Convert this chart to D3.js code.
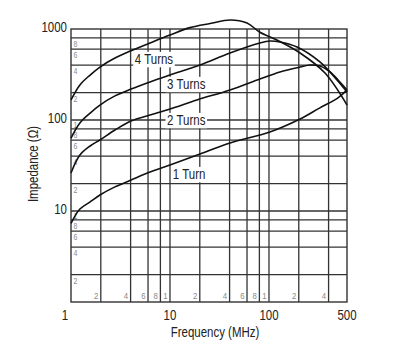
<!DOCTYPE html>
<html>
<head>
<meta charset="utf-8">
<script src="https://cdn.jsdelivr.net/npm/d3@7/dist/d3.min.js"></script>
<style>
  html, body { margin: 0; padding: 0; background: #fff; }
  svg { display: block; }
  text { font-family: "Liberation Sans", Arial, sans-serif; }
</style>
</head>
<body>
<svg id="chart" width="393" height="347"></svg>
<script>
// ---------------- data ----------------
const xMin = 1, xMax = 614;           // frequency axis extent (MHz)
const yMin = 1, yMax = 1000;          // impedance axis extent (ohm)

const xGridValues = [2, 4, 6, 8, 10, 20, 40, 60, 80, 100, 200, 400];
const xMinorLabels = ["2", "4", "6", "8", "1", "2", "4", "6", "8", "1", "2", "4"];
const yGridValues = [2, 4, 6, 8, 10, 20, 40, 60, 80, 100, 200, 400, 600, 800];
const yMinorLabels = ["2", "4", "6", "8", "1", "2", "4", "6", "8", "1", "2", "4", "6", "8"];

const xTickValues = [1, 10, 100, 614];
const xTickLabels = ["1", "10", "100", "500"];
const yTickValues = [10, 100, 1000];
const yTickLabels = ["10", "100", "1000"];

const xTitle = "Frequency (MHz)";
const yTitle = "Impedance (\u03A9)";

// series: frequency (MHz) and impedance (ohm)
const turns4Freq = [1, 1.23, 1.56, 1.96, 2.78, 4.04, 6.28, 10, 15.9, 25.4, 40.4, 60, 81, 120, 206, 368, 614];
const turns4Imp  = [166, 243, 312, 382, 480, 578, 702, 859, 1035, 1149, 1256, 1164, 920, 757, 545, 328, 146];

const turns3Freq = [1, 1.23, 1.56, 1.96, 2.78, 4.04, 6.28, 10, 20.1, 40.4, 81, 102, 129, 192, 327, 486, 614];
const turns3Imp  = [63.4, 92.7, 119, 146, 184, 219, 262, 312, 402, 545, 702, 738, 720, 634, 434, 275, 203];

const turns2Freq = [1, 1.23, 1.56, 1.96, 2.78, 4.04, 6.28, 10, 18.7, 40.4, 81, 129, 206, 259, 327, 413, 521, 614];
const turns2Imp  = [26.2, 41.2, 51.8, 60.3, 77.6, 97.5, 113.5, 132, 166, 214, 282, 337, 382, 402, 392, 337, 262, 214];

const turn1Freq = [1, 1.23, 1.56, 1.96, 2.78, 4.04, 6.28, 10, 20.1, 40.4, 102, 206, 327, 498, 614];
const turn1Imp  = [7.3, 10.5, 12.6, 15.0, 18.4, 21.9, 26.8, 32.0, 42.3, 55.9, 73.8, 102.5, 136, 175, 214];

const seriesNames = ["4 Turns", "3 Turns", "2 Turns", "1 Turn"];
const labelFreq = [6.89, 14.6, 14.6, 15.6];
const labelImp  = [468, 249, 100, 25.5];

// ---------------- chart ----------------
const svg = d3.select("#chart");
const plotLeft = 71, plotRight = 347, plotTop = 29, plotBottom = 302;
const narrow = 0.82;   // condensed look of the original lettering

const x = d3.scaleLog().domain([xMin, xMax]).range([plotLeft, plotRight]);
const y = d3.scaleLog().domain([yMin, yMax]).range([plotBottom, plotTop]);

function addText(parent, px, py, str, size, anchor, fill, extra) {
  const g = parent.append("g")
    .attr("transform", `translate(${px},${py})${extra || ""} scale(${narrow},1)`);
  const t = g.append("text")
    .attr("text-anchor", anchor).attr("font-size", size).attr("fill", fill)
    .text(str);
  return { g, t };
}

const gridColor = "#333";
const grid = svg.append("g");

grid.selectAll("line.v").data(xGridValues).enter().append("line")
  .attr("x1", d => x(d)).attr("x2", d => x(d))
  .attr("y1", y(yMax)).attr("y2", y(yMin))
  .attr("stroke", gridColor).attr("stroke-width", 1.3);

grid.selectAll("line.h").data(yGridValues).enter().append("line")
  .attr("x1", x(xMin)).attr("x2", x(xMax))
  .attr("y1", d => y(d)).attr("y2", d => y(d))
  .attr("stroke", gridColor).attr("stroke-width", 1.3);

grid.append("rect")
  .attr("x", x(xMin)).attr("y", y(yMax))
  .attr("width", x(xMax) - x(xMin)).attr("height", y(yMin) - y(yMax))
  .attr("fill", "none").attr("stroke", gridColor).attr("stroke-width", 1.4);

// minor labels
const minor = svg.append("g");
xGridValues.forEach((d, i) => addText(minor, x(d) - 2.5, y(yMin) - 3, xMinorLabels[i], 9.5, "end", "#8a8a8a"));
yGridValues.forEach((d, i) => addText(minor, x(xMin) + 2.5, y(d) + (yMinorLabels[i] === "1" ? 7.5 : 9), yMinorLabels[i], 8.5, "start", "#8a8a8a"));

// major tick labels
const major = svg.append("g");
xTickValues.forEach((d, i) => addText(major, x(d) + (i === 0 ? -6 : 0), y(yMin) + 18, xTickLabels[i], 14, "middle", "#222"));
yTickValues.forEach((d, i) => addText(major, x(xMin) - 4, y(d) + 3, yTickLabels[i], 14, "end", "#222"));

// axis titles
addText(svg, 215, 337, xTitle, 14, "middle", "#222");
addText(svg, 38, 164, yTitle, 14, "middle", "#222", " rotate(-90)");

// series labels with white boxes
const lab = svg.append("g");
seriesNames.forEach((name, i) => {
  const o = addText(lab, x(labelFreq[i]), y(labelImp[i]) + 5, name, 14, "middle", "#222");
  const bb = o.t.node().getBBox();
  o.g.insert("rect", "text")
    .attr("x", bb.x - 2).attr("y", bb.y + 1)
    .attr("width", bb.width + 4).attr("height", bb.height - 1)
    .attr("fill", "#fff");
});

// curves
const series = [
  [turns4Freq, turns4Imp],
  [turns3Freq, turns3Imp],
  [turns2Freq, turns2Imp],
  [turn1Freq, turn1Imp]
];
const line = d3.line()
  .x(d => x(d[0])).y(d => y(d[1]))
  .curve(d3.curveCatmullRom.alpha(0.5));

svg.append("g").selectAll("path").data(series).enter().append("path")
  .attr("d", s => line(s[0].map((f, i) => [f, s[1][i]])))
  .attr("fill", "none").attr("stroke", "#111").attr("stroke-width", 1.6);
</script>
</body>
</html>
